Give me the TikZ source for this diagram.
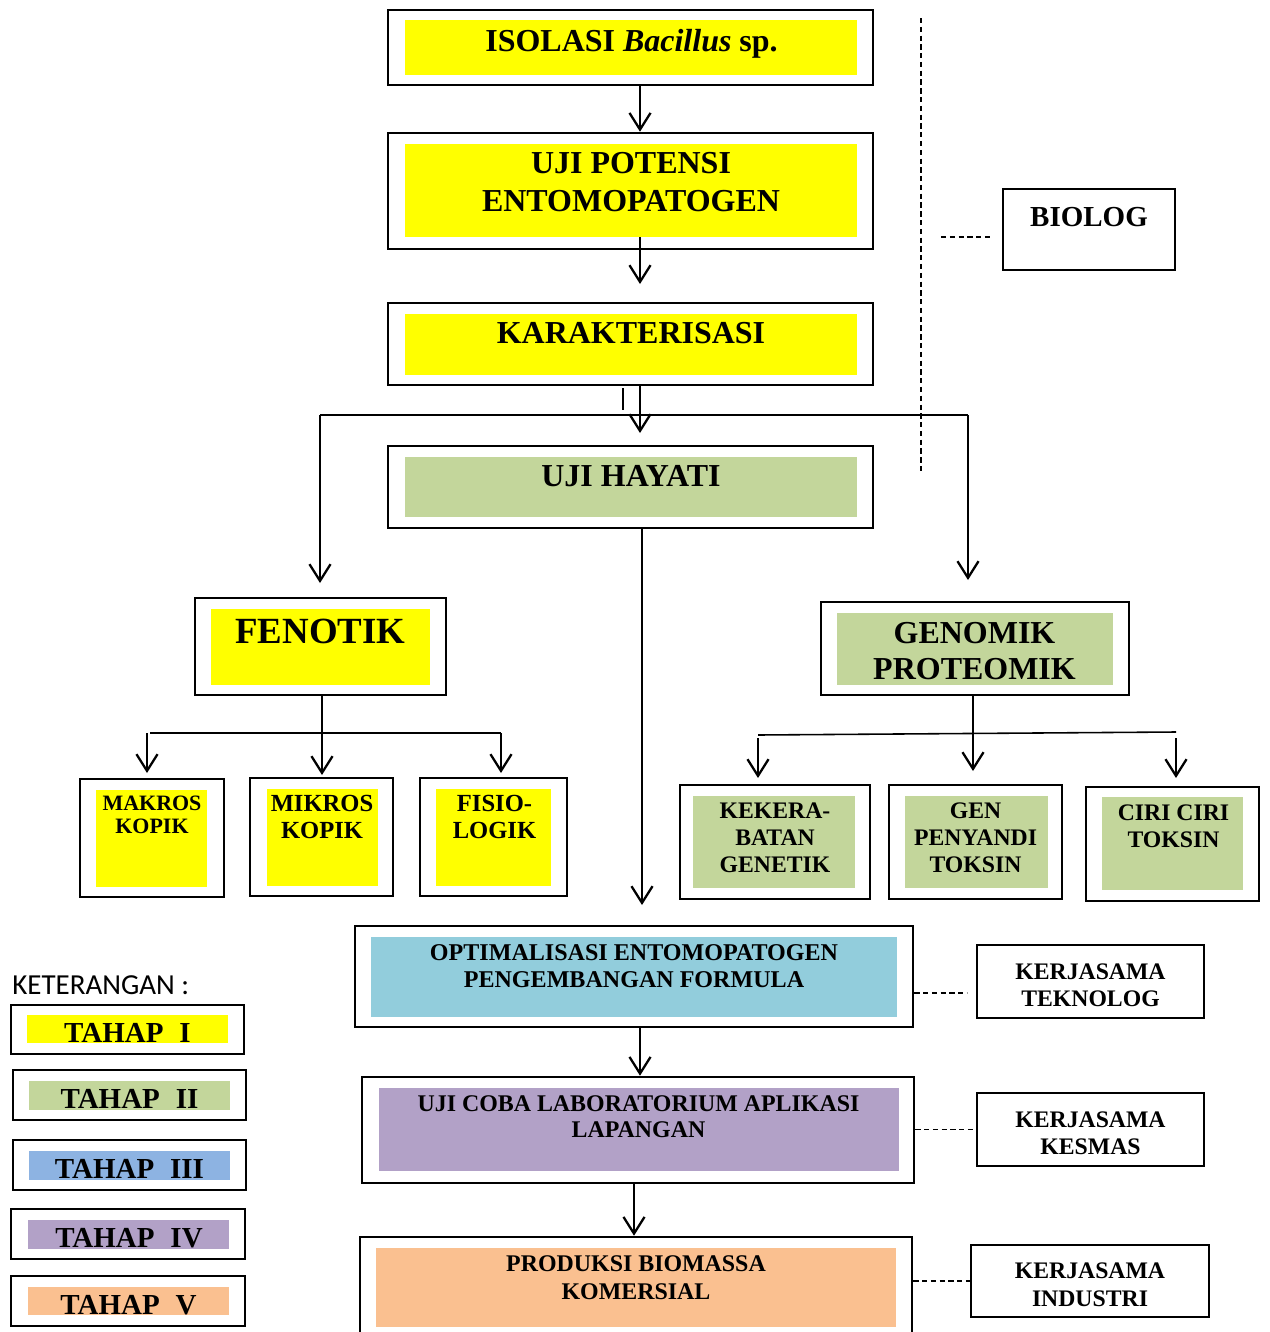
\documentclass[tikz,border=0pt]{standalone}
\usepackage{fontspec}
\setmainfont{Liberation Serif}
\newfontfamily\calib{Carlito}
\usetikzlibrary{arrows.meta,fit,calc}
\definecolor{cyel}{HTML}{FFFF00}
\definecolor{cgrn}{HTML}{C3D69B}
\definecolor{cblu}{HTML}{8DB3E2}
\definecolor{cpur}{HTML}{B2A1C7}
\definecolor{corg}{HTML}{FAC090}
\definecolor{cteal}{HTML}{92CDDC}
\newcommand{\tx}[3]{\fontsize{#1}{#2}\selectfont\bfseries\begin{tabular}[t]{@{}c@{}}#3\end{tabular}}
\begin{document}
\begin{tikzpicture}[x=0.02cm,y=-0.02cm,
  outer/.style={draw, line width=1.45pt, inner sep=0pt},
  inbox/.style={draw=none, inner sep=0pt},
  lbl/.style={anchor=base, inner sep=0pt},
  conn/.style={line width=1.3pt},
  thinconn/.style={line width=0.9pt},
  arr/.style={line width=1.3pt, -{Straight Barb[length=9.5pt,width=12pt]}},
  dsh/.style={line width=0.6pt, dash pattern=on 3pt off 2pt}]
\useasboundingbox (0,0) rectangle (1269,1332);

% ---------- main column ----------
\node[outer, fit={(388,10)(873,85)}] (isol) {};
\node[inbox, fill=cyel, fit={(405,20)(857,75)}] (isolF) {};
\node[lbl] (isolT) at (631.5,51.5) {\tx{18.2}{21.8}{ISOLASI \textit{Bacillus} sp.}};

\node[outer, fit={(388,133)(873,249)}] (pot) {};
\node[inbox, fill=cyel, fit={(405,144)(857,237)}] (potF) {};
\node[lbl] (potT) at (631,173.3) {\tx{18.2}{21.8}{UJI POTENSI\\ENTOMOPATOGEN}};

\node[outer, fit={(388,303)(873,385)}] (kar) {};
\node[inbox, fill=cyel, fit={(405,314)(857,375)}] (karF) {};
\node[lbl] (karT) at (631,343.3) {\tx{18.2}{21.8}{KARAKTERISASI}};

\node[outer, fit={(388,446)(873,528)}] (hay) {};
\node[inbox, fill=cgrn, fit={(405,457)(857,517)}] (hayF) {};
\node[lbl] (hayT) at (631,486.7) {\tx{18.2}{21.8}{UJI HAYATI}};

\node[outer, fit={(1003,189)(1175,270)}] (bio) {};
\node[lbl] (bioT) at (1089,226.5) {\tx{16.5}{20}{BIOLOG}};

% ---------- fenotik ----------
\node[outer, fit={(195,598)(446,695)}] (fen) {};
\node[inbox, fill=cyel, fit={(211,609)(430,685)}] (fenF) {};
\node[lbl] (fenT) at (320.5,643) {\tx{21}{25}{FENOTIK}};

\node[outer, fit={(80,779)(224,897)}] (mak) {};
\node[inbox, fill=cyel, fit={(96,790)(207,887)}] (makF) {};
\node[lbl] (makT) at (152,810) {\tx{12.5}{13.6}{MAKROS\\KOPIK}};

\node[outer, fit={(250,778)(393,896)}] (mik) {};
\node[inbox, fill=cyel, fit={(267,789)(378,886)}] (mikF) {};
\node[lbl] (mikT) at (322,811.5) {\tx{14}{15.6}{MIKROS\\KOPIK}};

\node[outer, fit={(420,778)(567,896)}] (fis) {};
\node[inbox, fill=cyel, fit={(436,789)(551,886)}] (fisF) {};
\node[lbl] (fisT) at (494.5,811.5) {\tx{14}{15.6}{FISIO-\\LOGIK}};

% ---------- genomik ----------
\node[outer, fit={(821,602)(1129,695)}] (gen) {};
\node[inbox, fill=cgrn, fit={(837,613)(1113,685)}] (genF) {};
\node[lbl] (genT) at (974.5,643) {\tx{18.2}{21}{GENOMIK\\PROTEOMIK}};

\node[outer, fit={(680,785)(870,899)}] (kek) {};
\node[inbox, fill=cgrn, fit={(693,796)(855,888)}] (kekF) {};
\node[lbl] (kekT) at (775,818) {\tx{13.5}{15.5}{KEKERA-\\BATAN\\GENETIK}};

\node[outer, fit={(889,785)(1062,899)}] (gpt) {};
\node[inbox, fill=cgrn, fit={(905,796)(1048,888)}] (gptF) {};
\node[lbl] (gptT) at (975.5,818) {\tx{13.5}{15.5}{GEN\\PENYANDI\\TOKSIN}};

\node[outer, fit={(1086,787)(1259,901)}] (cir) {};
\node[inbox, fill=cgrn, fit={(1102,797)(1243,890)}] (cirF) {};
\node[lbl] (cirT) at (1173.5,820) {\tx{13.5}{15.5}{CIRI CIRI\\TOKSIN}};

% ---------- lower column ----------
\node[outer, fit={(355,926)(913,1027)}] (opt) {};
\node[inbox, fill=cteal, fit={(371,937)(897,1017)}] (optF) {};
\node[lbl] (optT) at (634,960) {\tx{13.7}{15.9}{OPTIMALISASI ENTOMOPATOGEN\\PENGEMBANGAN FORMULA}};

\node[outer, fit={(362,1077)(914,1183)}] (ujc) {};
\node[inbox, fill=cpur, fit={(379,1088)(899,1171)}] (ujcF) {};
\node[lbl] (ujcT) at (638.5,1111.5) {\tx{13.6}{15}{UJI COBA LABORATORIUM APLIKASI\\LAPANGAN}};

\node[outer, fit={(360,1237)(912,1345)}] (pro) {};
\node[inbox, fill=corg, fit={(376,1248)(896,1327)}] (proF) {};
\node[lbl] (proT) at (636,1271.5) {\tx{13.6}{16.2}{PRODUKSI BIOMASSA\\KOMERSIAL}};

\node[outer, fit={(977,945)(1204,1018)}] (kt) {};
\node[lbl] (ktT) at (1090.5,979) {\tx{13.5}{15.9}{KERJASAMA\\TEKNOLOG}};
\node[outer, fit={(977,1093)(1204,1166)}] (kk) {};
\node[lbl] (kkT) at (1090.5,1127) {\tx{13.5}{15.9}{KERJASAMA\\KESMAS}};
\node[outer, fit={(971,1245)(1209,1317)}] (ki) {};
\node[lbl] (kiT) at (1090,1278) {\tx{13.5}{16.2}{KERJASAMA\\INDUSTRI}};

% ---------- legend ----------
\node[anchor=base west, inner sep=0pt, font=\calib\fontsize{16.5}{19}\selectfont] (ket) at (12,994) {KETERANGAN :};
\node[outer, fit={(11,1005)(244,1054)}] (t1) {};
\node[inbox, fill=cyel, fit={(27,1015)(228,1043)}] (t1F) {};
\node[lbl] (t1T) at (127.5,1042.7) {\tx{16.5}{20}{TAHAP\hspace{0.55em}I}};
\node[outer, fit={(13,1070)(246,1120)}] (t2) {};
\node[inbox, fill=cgrn, fit={(29,1081)(230,1110)}] (t2F) {};
\node[lbl] (t2T) at (129.5,1108) {\tx{16.5}{20}{TAHAP\hspace{0.55em}II}};
\node[outer, fit={(13,1140)(246,1190)}] (t3) {};
\node[inbox, fill=cblu, fit={(29,1151)(230,1180)}] (t3F) {};
\node[lbl] (t3T) at (129.5,1178) {\tx{16.5}{20}{TAHAP\hspace{0.55em}III}};
\node[outer, fit={(11,1209)(245,1259)}] (t4) {};
\node[inbox, fill=cpur, fit={(28,1220)(229,1249)}] (t4F) {};
\node[lbl] (t4T) at (129,1247) {\tx{16.5}{20}{TAHAP\hspace{0.55em}IV}};
\node[outer, fit={(11,1276)(245,1326)}] (t5) {};
\node[inbox, fill=corg, fit={(28,1287)(229,1315)}] (t5F) {};
\node[lbl] (t5T) at (128.5,1314) {\tx{16.5}{20}{TAHAP\hspace{0.55em}V}};

% ---------- coordinates ----------
\coordinate (ax) at (640,0);
\coordinate (p2end) at (640,284);
\coordinate (k2end) at (640,433);
\coordinate (stA) at (623,388);
\coordinate (stB) at (623,410);
\coordinate (bl) at (320,415);
\coordinate (br) at (968,415);
\coordinate (fenTip) at (320,583);
\coordinate (genTip) at (968,580);
\coordinate (hx) at (642,0);
\coordinate (hayTip) at (642,905);
\coordinate (dvA) at (921,18);
\coordinate (dvB) at (921,472);
\coordinate (dhA) at (941,237);
\coordinate (dhB) at (992,237);
\coordinate (fj) at (322,733);
\coordinate (fl) at (147,733);
\coordinate (fr) at (501,733);
\coordinate (gj) at (973,771);
\coordinate (gl) at (758,735);
\coordinate (gr) at (1176,732);
\coordinate (gtl) at (758,778);
\coordinate (gtr) at (1176,778);
\coordinate (ftl) at (147,773);
\coordinate (ftm) at (322,775);
\coordinate (ftr) at (501,773);
\coordinate (o1) at (640,0);
\coordinate (o2) at (634,0);
\coordinate (ktd) at (967,993);

% ---------- connectors ----------
\draw[arr] (isol.south -| ax) -- (pot.north -| ax);
\draw[arr] (potF.south -| ax) -- (p2end);
\draw[arr] (kar.south -| ax) -- (k2end);
\draw[thinconn] (stA) -- (stB);
\draw[conn] (bl) -- (br);
\draw[arr] (bl) -- (fenTip);
\draw[arr] (br) -- (genTip);
\draw[arr] (hay.south -| hx) -- (hayTip);
\draw[dsh] (dvA) -- (dvB);
\draw[dsh] (dhA) -- (dhB);

\draw[thinconn] (fen.south -| fj) -- (fj);
\draw[thinconn] ($(fl)+(3,0)$) -- (fr);
\draw[arr] (fl) -- (ftl);
\draw[arr] (fj) -- (ftm);
\draw[arr] (fr) -- (ftr);

\draw[arr] (gen.south -| gj) -- (gj);
\draw[thinconn] (gl) -- (gr);
\draw[arr] ($(gl)+(0,3)$) -- (gtl);
\draw[arr] ($(gr)+(0,6)$) -- (gtr);

\draw[arr] (opt.south -| o1) -- (ujc.north -| o1);
\draw[arr] (ujc.south -| o2) -- (pro.north -| o2);
\draw[dsh] (opt.east |- ktd) -- (ktd);
\draw[dsh] (ujc.east |- kk.west) -- (kk.west);
\draw[dsh] (pro.east |- ki.west) -- (ki.west);
\end{tikzpicture}
\end{document}
